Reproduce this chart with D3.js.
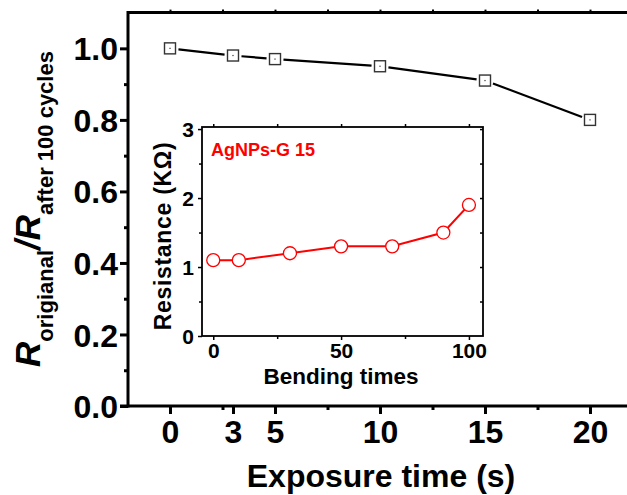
<!DOCTYPE html>
<html><head><meta charset="utf-8">
<script src="https://cdn.jsdelivr.net/npm/d3@7"></script>
<style>
html,body{margin:0;padding:0;background:#fff;overflow:hidden}
text{font-family:"Liberation Sans",Arial,Helvetica,sans-serif;font-weight:bold}
</style></head><body>
<svg id="c" width="627" height="495"></svg>
<script>
// ---- main chart data ----
const exposureTimes = [0, 3, 5, 10, 15, 20];
const resistanceRatio = [1.0, 0.98, 0.97, 0.95, 0.91, 0.80];
const mainXTicks = [0, 3, 5, 10, 15, 20];
const mainXMinor = [2.5, 7.5, 12.5, 17.5];
const mainYTicks = [0, 0.2, 0.4, 0.6, 0.8, 1.0];
const mainYMinor = [0.1, 0.3, 0.5, 0.7, 0.9];
// ---- inset data ----
const bendingTimes = [0, 10, 30, 50, 70, 90, 100];
const resistanceK = [1.1, 1.1, 1.2, 1.3, 1.3, 1.5, 1.9];
const insetXTicks = [0, 50, 100];
const insetXMinor = [25, 75];
const insetYTicks = [0, 1, 2, 3];
const insetYMinor = [0.5, 1.5, 2.5];

const svg = d3.select("#c");

// ===== MAIN =====
const x = d3.scaleLinear().domain([-2, 22]).range([128, 632]);
const y = d3.scaleLinear().domain([0, 1.1]).range([406, 12.6]);

const g = svg.append("g");
g.append("line").attr("x1", x(-2) - 8).attr("x2", 632).attr("y1", y(0)).attr("y2", y(0))
  .attr("stroke", "#000").attr("stroke-width", 3);
g.append("line").attr("x1", x(-2)).attr("x2", 632).attr("y1", y(1.1)).attr("y2", y(1.1))
  .attr("stroke", "#000").attr("stroke-width", 3);
g.append("line").attr("x1", x(-2)).attr("x2", x(-2)).attr("y1", y(1.1) - 1.5).attr("y2", y(0) + 1.5)
  .attr("stroke", "#000").attr("stroke-width", 3);

// bottom axis
const xAxis = d3.axisBottom(x).tickValues(mainXTicks).tickSize(8).tickPadding(6).tickFormat(d3.format("d"));
const gx = g.append("g").attr("transform", `translate(0,${y(0)})`).call(xAxis);
gx.select(".domain").remove();
gx.selectAll(".tick line").attr("stroke-width", 3);
gx.selectAll(".tick text").attr("font-size", 32).attr("fill", "#000");
const gxm = g.append("g").attr("transform", `translate(0,${y(0)})`)
  .call(d3.axisBottom(x).tickValues(mainXMinor).tickSize(4).tickFormat(""));
gxm.select(".domain").remove();
gxm.selectAll(".tick line").attr("stroke-width", 3);
const gxt = g.append("g").attr("transform", `translate(0,${y(1.1)})`)
  .call(d3.axisTop(x).tickValues(mainXTicks.filter(d => d !== 3).concat(mainXMinor)).tickSize(3).tickFormat(""));
gxt.select(".domain").remove();
gxt.selectAll(".tick line").attr("stroke-width", 2);

// left axis
const yAxis = d3.axisLeft(y).tickValues(mainYTicks).tickSize(8).tickPadding(2).tickFormat(d3.format(".1f"));
const gy = g.append("g").attr("transform", `translate(${x(-2)},0)`).call(yAxis);
gy.select(".domain").remove();
gy.selectAll(".tick line").attr("stroke-width", 3);
gy.selectAll(".tick text").attr("font-size", 32).attr("fill", "#000").attr("dy", "0.36em");
const gym = g.append("g").attr("transform", `translate(${x(-2)},0)`)
  .call(d3.axisLeft(y).tickValues(mainYMinor).tickSize(4).tickFormat(""));
gym.select(".domain").remove();
gym.selectAll(".tick line").attr("stroke-width", 3);

// line with gaps
const pts = exposureTimes.map((t, i) => [x(t), y(resistanceRatio[i])]);
const gap = 8.5;
for (let i = 0; i < pts.length - 1; i++) {
  const [x1, y1] = pts[i], [x2, y2] = pts[i + 1];
  const dx = x2 - x1, dy = y2 - y1, L = Math.hypot(dx, dy);
  const ux = dx / L, uy = dy / L;
  g.append("line").attr("x1", x1 + ux * gap).attr("y1", y1 + uy * gap)
    .attr("x2", x2 - ux * gap).attr("y2", y2 - uy * gap)
    .attr("stroke", "#000").attr("stroke-width", 2.2);
}
g.selectAll("rect.pt").data(pts).join("rect").attr("class", "pt")
  .attr("x", d => d[0] - 5.5).attr("y", d => d[1] - 5.5).attr("width", 11).attr("height", 11)
  .attr("fill", "#fff").attr("stroke", "#333").attr("stroke-width", 1.4);
g.selectAll("rect.dot").data(pts).join("rect").attr("class", "dot")
  .attr("x", d => d[0] - 0.6).attr("y", d => d[1] - 0.6).attr("width", 1.2).attr("height", 1.2)
  .attr("fill", "#333");

// axis titles
g.append("text").attr("x", 381).attr("y", 487).attr("text-anchor", "middle")
  .attr("font-size", 32).attr("fill", "#000").text("Exposure time (s)");
const yt = g.append("text").attr("transform", "rotate(-90)")
  .attr("x", -209).attr("y", 40).attr("text-anchor", "middle").attr("fill", "#000");
yt.append("tspan").attr("font-size", 35).attr("font-style", "italic").text("R");
yt.append("tspan").attr("font-size", 22).attr("dy", 13).text("origianal");
yt.append("tspan").attr("font-size", 35).attr("font-style", "italic").attr("dy", -13).text("/R");
yt.append("tspan").attr("font-size", 22).attr("dy", 13).text("after 100 cycles");

// ===== INSET =====
const ix = d3.scaleLinear().domain([-4.4, 105.5]).range([202, 483]);
const iy = d3.scaleLinear().domain([0, 3.03]).range([336, 127]);
const ig = svg.append("g");
ig.append("rect").attr("x", 202).attr("y", 127).attr("width", 281).attr("height", 209)
  .attr("fill", "#fff").attr("stroke", "#000").attr("stroke-width", 1.8);

function tickStyle(sel) { sel.select(".domain").remove(); sel.selectAll(".tick line").attr("stroke-width", 1.5); }
const ixa = ig.append("g").attr("transform", `translate(0,336)`)
  .call(d3.axisBottom(ix).tickValues(insetXTicks).tickSize(4).tickPadding(3).tickFormat(d3.format("d")));
tickStyle(ixa);
ixa.selectAll(".tick text").attr("font-size", 21).attr("fill", "#000");
tickStyle(ig.append("g").attr("transform", `translate(0,336)`)
  .call(d3.axisBottom(ix).tickValues(insetXMinor).tickSize(3).tickFormat("")));
tickStyle(ig.append("g").attr("transform", `translate(0,127)`)
  .call(d3.axisTop(ix).tickValues(insetXTicks.concat(insetXMinor)).tickSize(3).tickFormat("")));
const iya = ig.append("g").attr("transform", `translate(202,0)`)
  .call(d3.axisLeft(iy).tickValues(insetYTicks).tickSize(4).tickPadding(4).tickFormat(d3.format("d")));
tickStyle(iya);
iya.selectAll(".tick text").attr("font-size", 21).attr("fill", "#000").attr("dy", "0.36em");
tickStyle(ig.append("g").attr("transform", `translate(202,0)`)
  .call(d3.axisLeft(iy).tickValues(insetYMinor).tickSize(3).tickFormat("")));
tickStyle(ig.append("g").attr("transform", `translate(483,0)`)
  .call(d3.axisLeft(iy).tickValues(insetYTicks.slice(1).concat(insetYMinor)).tickSize(3).tickFormat("")));

const ipts = bendingTimes.map((t, i) => [ix(t), iy(resistanceK[i])]);
ig.append("path").attr("d", d3.line()(ipts)).attr("fill", "none").attr("stroke", "#ff0000").attr("stroke-width", 2);
ig.selectAll("circle").data(ipts).join("circle").attr("cx", d => d[0]).attr("cy", d => d[1]).attr("r", 6.5)
  .attr("fill", "#fff").attr("stroke", "#ff0000").attr("stroke-width", 1.3);

ig.append("text").attr("x", 211).attr("y", 156).attr("font-size", 18).attr("fill", "#ff0000").text("AgNPs-G 15");
ig.append("text").attr("x", 341).attr("y", 384).attr("text-anchor", "middle").attr("font-size", 22.5)
  .attr("fill", "#000").text("Bending times");
ig.append("text").attr("transform", "rotate(-90)").attr("x", -236).attr("y", 171)
  .attr("text-anchor", "middle").attr("font-size", 23).attr("letter-spacing", 0.7)
  .attr("fill", "#000").text("Resistance (KΩ)");
</script></body></html>
